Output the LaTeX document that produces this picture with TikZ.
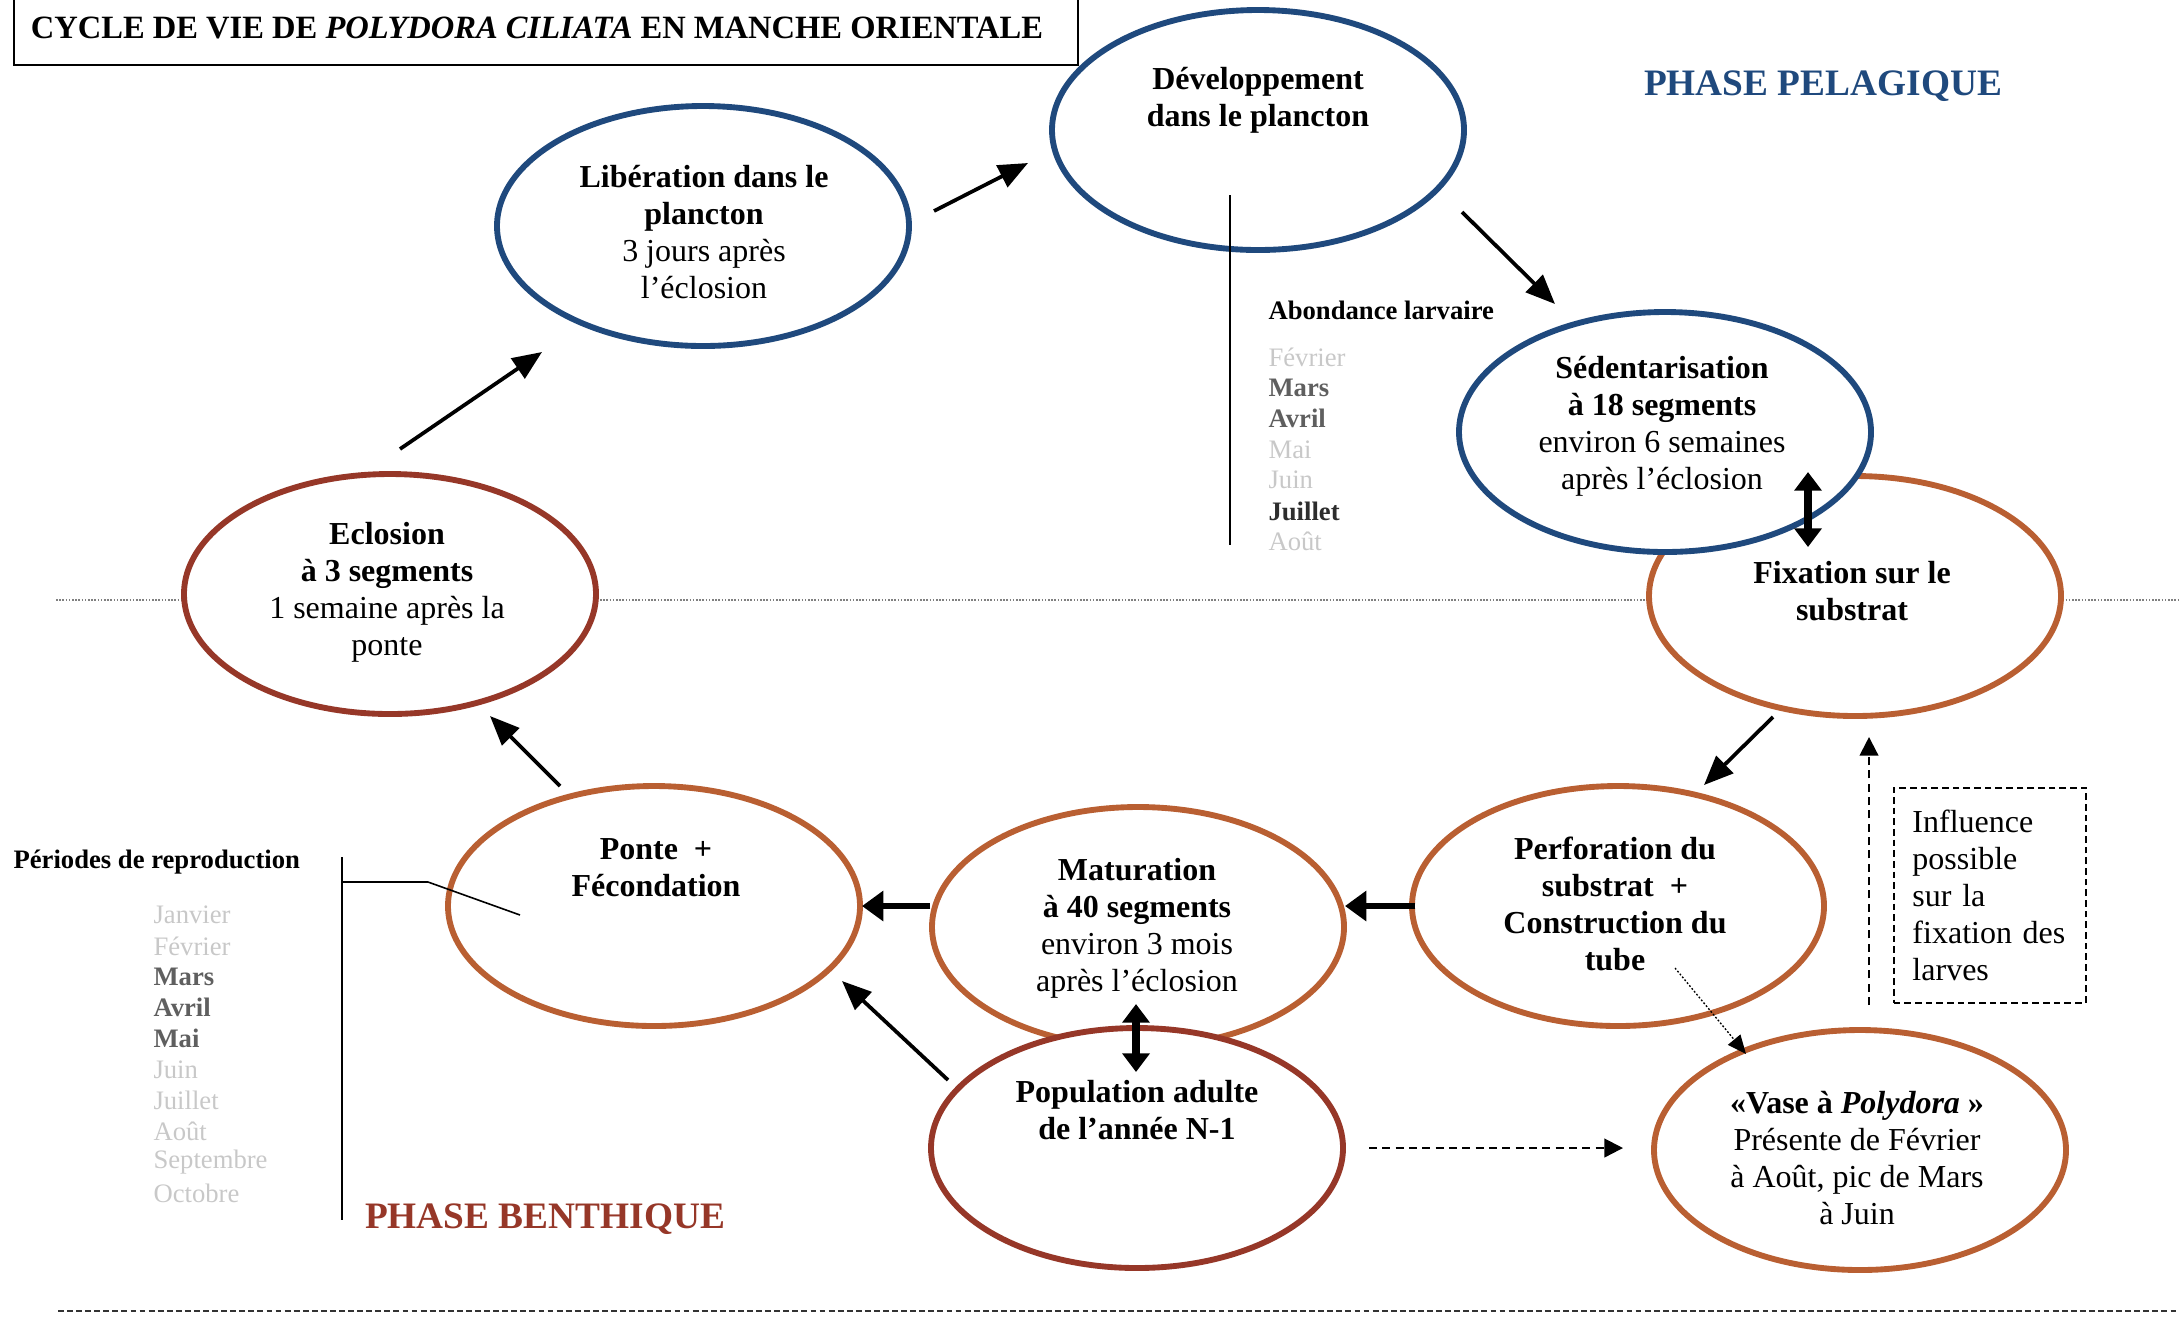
\documentclass[tikz,border=0pt]{standalone}
\usepackage{fontspec}
\setmainfont{Liberation Serif}
\usepackage{xcolor}
\usetikzlibrary{arrows.meta,shapes.geometric}
\definecolor{pelagic}{RGB}{31,73,125}
\definecolor{benthic}{RGB}{150,55,40}
\definecolor{rust}{RGB}{185,95,50}
\definecolor{monthlight}{RGB}{200,200,200}
\definecolor{monthdark}{RGB}{95,95,95}
\definecolor{monthblack}{RGB}{45,45,45}
\newcommand{\mlight}[1]{\textcolor{monthlight}{#1}}
\newcommand{\mdark}[1]{\textcolor{monthdark}{\bfseries #1}}
\newcommand{\mblack}[1]{\textcolor{monthblack}{\bfseries #1}}

\begin{document}
\begin{tikzpicture}[x=0.375pt, y=-0.375pt,
    stage/.style={ellipse, draw, line width=2.2pt, fill=white, minimum width=154.5pt, minimum height=90pt, inner sep=0pt},
    txt/.style={align=center, font=\fontsize{12}{13.9}\selectfont},
    month/.style={anchor=west, inner sep=0pt, font=\fontsize{10}{11.6}\selectfont},
    arr/.style={-{Triangle[length=11pt,width=9pt]}, line width=1.4pt},
    bigarr/.style={-{Triangle[length=8pt,width=11pt]}, line width=2.6pt},
    dblarr/.style={{Triangle[length=7pt,width=10pt]}-{Triangle[length=7pt,width=10pt]}, line width=3.2pt},
    dasharr/.style={-{Triangle[length=7pt,width=7pt]}, dash pattern=on 3pt off 2pt, line width=0.8pt},
    dotarr/.style={-{Triangle[length=7pt,width=6pt]}, dash pattern=on 0.7pt off 0.7pt, line width=0.5pt}]
    \useasboundingbox (0,0) rectangle (2179,1316);

    % Title box
    \draw[line width=0.8pt] (14,0) -- (14,65) -- (1078,65) -- (1078,0);
    \node[font=\fontsize{12.2}{14}\selectfont\bfseries] (title) at (537,28)
        {CYCLE DE VIE DE \textit{POLYDORA CILIATA} EN MANCHE ORIENTALE};

    % Separation lines
    \draw[gray, line width=0.6pt, dash pattern=on 0.6pt off 0.6pt] (56,600) -- (2179,600);
    \draw[black!80, line width=0.8pt, dash pattern=on 2.2pt off 1.2pt] (58,1311) -- (2179,1311);

    % Phase labels
    \node[font=\fontsize{14}{16}\selectfont\bfseries, text=pelagic] (pelag) at (1823,86) {PHASE PELAGIQUE};
    \node[font=\fontsize{14}{16}\selectfont\bfseries, text=benthic] (benth) at (545,1219) {PHASE BENTHIQUE};

    % Stages
    \node[stage, draw=pelagic] (dev) at (1258,130) {};
    \node[stage, draw=pelagic] (lib) at (703,226) {};
    \node[stage, draw=rust] (fix) at (1855,596) {};
    \node[stage, draw=pelagic] (sed) at (1665,432) {};
    \node[stage, draw=benthic] (ecl) at (390,594) {};
    \node[stage, draw=rust] (ponte) at (654,906) {};
    \node[stage, draw=rust] (mat) at (1138,927) {};
    \node[stage, draw=benthic] (pop) at (1137,1148) {};
    \node[stage, draw=rust] (perf) at (1618,906) {};
    \node[stage, draw=rust] (vase) at (1860,1150) {};

    % Stage texts
    \node[txt] (devtxt) at (1258,100) {\textbf{Développement}\\\textbf{dans le plancton}};
    \node[txt] (libtxt) at (704,232) {\textbf{Libération dans le}\\\textbf{plancton}\\3 jours après\\l’éclosion};
    \node[txt] (sedtxt) at (1662,426) {\textbf{Sédentarisation}\\\textbf{à 18 segments}\\environ 6 semaines\\après l’éclosion};
    \node[txt] (fixtxt) at (1852,591) {\textbf{Fixation sur le}\\\textbf{substrat}};
    \node[txt] (ecltxt) at (387,592) {\textbf{Eclosion}\\\textbf{à 3 segments}\\1 semaine après la\\ponte};
    \node[txt] (pontetxt) at (656,868) {\textbf{Ponte\ \ +}\\\textbf{Fécondation}};
    \node[txt] (mattxt) at (1137,928) {\textbf{Maturation}\\\textbf{à 40 segments}\\environ 3 mois\\après l’éclosion};
    \node[txt] (perftxt) at (1615,904) {\textbf{Perforation du}\\\textbf{substrat\ \ +}\\\textbf{Construction du}\\\textbf{tube}};
    \node[txt] (poptxt) at (1137,1110) {\textbf{Population adulte}\\\textbf{de l’année N-1}};
    \node[txt] (vasetxt) at (1857,1158) {\textbf{«Vase à \textit{Polydora} »}\\Présente de Février\\à Août, pic de Mars\\à Juin};

    % Larval abundance
    \draw[line width=0.6pt] (1230,195) -- (1230,545);
    \node[month, font=\fontsize{10}{11.6}\selectfont\bfseries] (abond) at (1268,310) {Abondance larvaire};
    \foreach \m [count=\i from 0] in {\mlight{Février},\mdark{Mars},\mdark{Avril},\mlight{Mai},\mlight{Juin},\mblack{Juillet},\mlight{Août}}
        \node[month] (ab\i) at (1268,{357+30.8*\i}) {\m};

    % Reproduction periods
    \draw[line width=0.6pt] (342,857) -- (342,1220);
    \draw[line width=0.6pt] (342,882) -- (428,882) -- (520,915);
    \node[month, font=\fontsize{10}{11.6}\selectfont\bfseries] (repro) at (13,862) {Périodes de reproduction};
    \foreach \m [count=\i from 0] in {\mlight{Janvier},\mlight{Février},\mdark{Mars},\mdark{Avril},\mdark{Mai},\mlight{Juin},\mlight{Juillet},\mlight{Août},\mlight{Septembre},\mlight{Octobre}}
        \node[month] (rp\i) at (153,{915+30.9*\i}) {\m};

    % Influence box
    \node[draw, dash pattern=on 2.5pt off 1.5pt, line width=0.6pt, anchor=north west, text width=58pt,
          inner xsep=7pt, minimum height=80.6pt, align=left, font=\fontsize{12}{13.9}\selectfont] (infl) at (1893,787)
        {Influence\\possible\\sur la\\fixation des\\larves};

    % Arrow ends
    \coordinate (eclout) at (400,449);   \coordinate (libin) at (542,352);
    \coordinate (libout) at (934,211);   \coordinate (devin) at (1028,163);
    \coordinate (devout) at (1462,212);  \coordinate (sedin) at (1555,304);
    \coordinate (sedbot) at (1808,472);  \coordinate (fixtop) at (1808,547);
    \coordinate (fixout) at (1773,717);  \coordinate (perfin) at (1704,785);
    \coordinate (perfout) at (1415,906); \coordinate (matin) at (1345,906);
    \coordinate (matout) at (930,906);   \coordinate (pontein) at (862,906);
    \coordinate (popout) at (948,1080);  \coordinate (pontein2) at (842,981);
    \coordinate (matbot) at (1136,1004); \coordinate (poptop) at (1136,1072);
    \coordinate (ponteout) at (560,786); \coordinate (eclin) at (490,716);
    \coordinate (popout2) at (1369,1148); \coordinate (vasein) at (1623,1148);
    \coordinate (perfout2) at (1675,968); \coordinate (vasein2) at (1746,1054);
    \coordinate (inflbot) at (1869,1005); \coordinate (fixin) at (1869,737);

    % Cycle arrows
    \draw[arr] (eclout) -- (libin);
    \draw[arr] (libout) -- (devin);
    \draw[arr] (devout) -- (sedin);
    \draw[dblarr] (sedbot) -- (fixtop);
    \draw[arr] (fixout) -- (perfin);
    \draw[bigarr] (perfout) -- (matin);
    \draw[bigarr] (matout) -- (pontein);
    \draw[arr] (popout) -- (pontein2);
    \draw[dblarr] (matbot) -- (poptop);
    \draw[arr] (ponteout) -- (eclin);
    \draw[dasharr] (popout2) -- (vasein);
    \draw[dotarr] (perfout2) -- (vasein2);
    \draw[dasharr] (inflbot) -- (fixin);
\end{tikzpicture}
\end{document}
